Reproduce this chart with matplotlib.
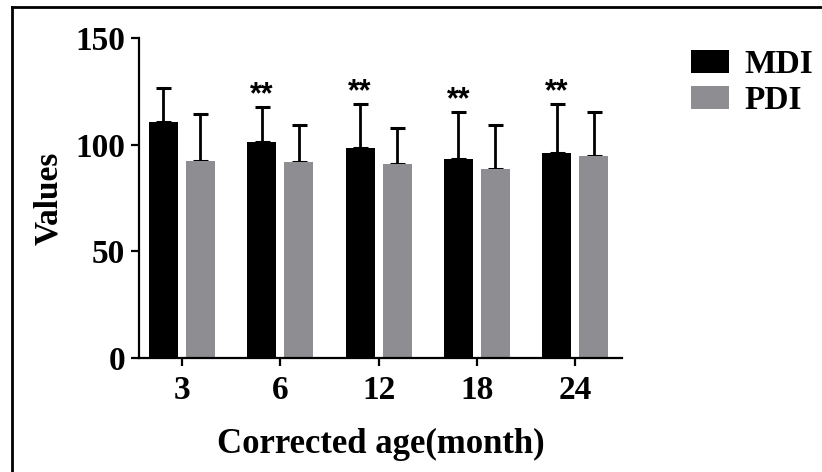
import matplotlib
matplotlib.use("Agg")
import matplotlib.pyplot as plt
import numpy as np
from matplotlib.lines import Line2D

categories = ["3", "6", "12", "18", "24"]
mdi_mean = [110.6, 101.4, 98.6, 93.4, 96.1]
mdi_sd = [15.9, 16.3, 20.5, 22.1, 23.0]
pdi_mean = [92.3, 91.9, 91.0, 88.6, 94.5]
pdi_sd = [22.1, 17.3, 16.8, 20.6, 21.0]
significance = ["", "**", "**", "**", "**"]

serif = "Liberation Serif"
fs = 24

fig = plt.figure(figsize=(8.22, 4.72), dpi=100)
ax = fig.add_axes([0.1691, 0.2415, 0.5876, 0.678])

x = np.arange(len(categories))
w = 0.295
off = 0.188
mdi_color = "#000000"
pdi_color = "#8e8e92"

ax.bar(x - off, mdi_mean, w, color=mdi_color, label="MDI", zorder=2)
ax.bar(x + off, pdi_mean, w, color=pdi_color, label="PDI", zorder=2)
ax.errorbar(x - off, mdi_mean, yerr=[np.zeros(len(x)), mdi_sd], fmt="none",
            ecolor="black", elinewidth=2.0, capsize=5.4, capthick=2.2, zorder=1)
ax.errorbar(x + off, pdi_mean, yerr=[np.zeros(len(x)), pdi_sd], fmt="none",
            ecolor="black", elinewidth=2.0, capsize=5.4, capthick=2.2, zorder=1)

for xi, m, s, sig in zip(x, mdi_mean, mdi_sd, significance):
    if sig:
        ax.annotate(sig, (xi - off, m + s), xytext=(0, 8.5), textcoords="offset points",
                    ha="center", va="center", fontsize=22, fontweight="bold",
                    family="Liberation Sans", color="black")

ax.set_xlim(-0.437, 4.476)
ax.set_ylim(0, 150)
ax.set_yticks([0, 50, 100, 150])
ax.set_xticks(x)
ax.set_xticklabels(categories)
for sp in ["top", "right"]:
    ax.spines[sp].set_visible(False)
for sp in ["left", "bottom"]:
    ax.spines[sp].set_linewidth(1.6)
ax.tick_params(axis="both", width=1.6, length=6, labelsize=fs, pad=4)
ax.tick_params(axis="x", pad=6)
for lab in ax.get_xticklabels() + ax.get_yticklabels():
    lab.set_family(serif)
    lab.set_fontweight("bold")

ax.set_ylabel("Values", family=serif, fontweight="bold", fontsize=fs, labelpad=8)
ax.set_xlabel("Corrected age(month)", family=serif, fontweight="bold", fontsize=25, labelpad=16)

leg = ax.legend(loc="upper left", bbox_to_anchor=(690.7 / 822, 1 - 49 / 472),
                bbox_transform=fig.transFigure, frameon=False,
                prop={"family": serif, "weight": "bold", "size": fs},
                handlelength=1.14, handleheight=0.66, handletextpad=0.48,
                labelspacing=0.15, borderpad=0, borderaxespad=0)

# partial frame around figure (left and top edges)
fig.add_artist(Line2D([12 / 822, 12 / 822], [0, 1 - 7 / 472], transform=fig.transFigure,
                      color="black", linewidth=2))
fig.add_artist(Line2D([12 / 822, 1], [1 - 7 / 472, 1 - 7 / 472], transform=fig.transFigure,
                      color="black", linewidth=2))

fig.savefig("out.png", dpi=100)
